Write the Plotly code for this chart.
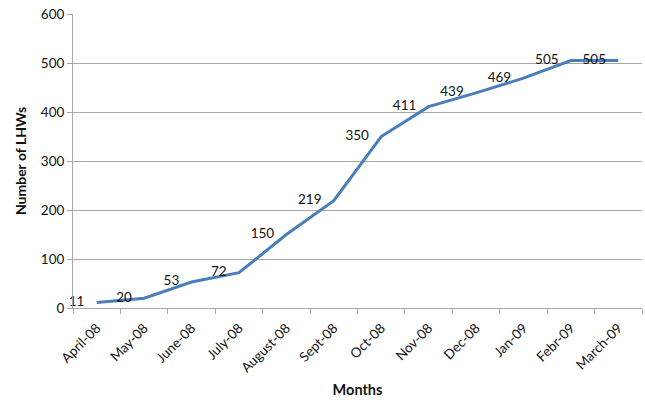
import plotly.graph_objects as go

months = ["April-08", "May-08", "June-08", "July-08", "August-08", "Sept-08",
          "Oct-08", "Nov-08", "Dec-08", "Jan-09", "Febr-09", "March-09"]
lhws = [11, 20, 53, 72, 150, 219, 350, 411, 439, 469, 505, 505]
y_ticks = [0, 100, 200, 300, 400, 500, 600]

FONT = "Lato"
GRID = "#a6a6a6"

fig = go.Figure()
fig.add_trace(go.Scatter(
    x=months, y=lhws,
    mode="lines+markers+text",
    line=dict(color="#4a7ebb", width=3),
    marker=dict(size=18, color="rgba(0,0,0,0)"),
    text=[str(v) for v in lhws],
    textposition="middle left",
    textfont=dict(family=FONT, size=13.5, color="#111111"),
    hoverinfo="skip",
    cliponaxis=False,
))

fig.update_layout(
    width=645, height=403,
    margin=dict(l=73, r=3, t=14, b=95, autoexpand=False),
    paper_bgcolor="white", plot_bgcolor="white",
    showlegend=False,
    font=dict(family=FONT, size=13, color="#111111"),
)
fig.update_xaxes(
    type="category", range=[-0.5, 11.5],
    showline=True, linecolor=GRID, linewidth=1,
    ticks="outside", tickson="boundaries", ticklen=5, tickcolor=GRID,
    ticklabelstandoff=6,
    tickangle=-45, tickfont=dict(family=FONT, size=13.5),
    showgrid=False,
    title=dict(text="<b>Months</b>", font=dict(family=FONT, size=14.5), standoff=10),
)
fig.update_yaxes(
    range=[0, 600], tickvals=y_ticks,
    showline=True, linecolor=GRID, linewidth=1,
    ticks="outside", ticklen=5, tickcolor=GRID,
    showgrid=True, gridcolor=GRID, gridwidth=1,
    zeroline=False,
    tickfont=dict(family=FONT, size=13.5),
    title=dict(text="<b>Number of LHWs</b>", font=dict(family=FONT, size=14), standoff=10),
)

fig.write_html(
    "out.html",
    config={"displayModeBar": False},
    post_script="document.body.style.margin='0';document.body.style.overflow='hidden';",
)
